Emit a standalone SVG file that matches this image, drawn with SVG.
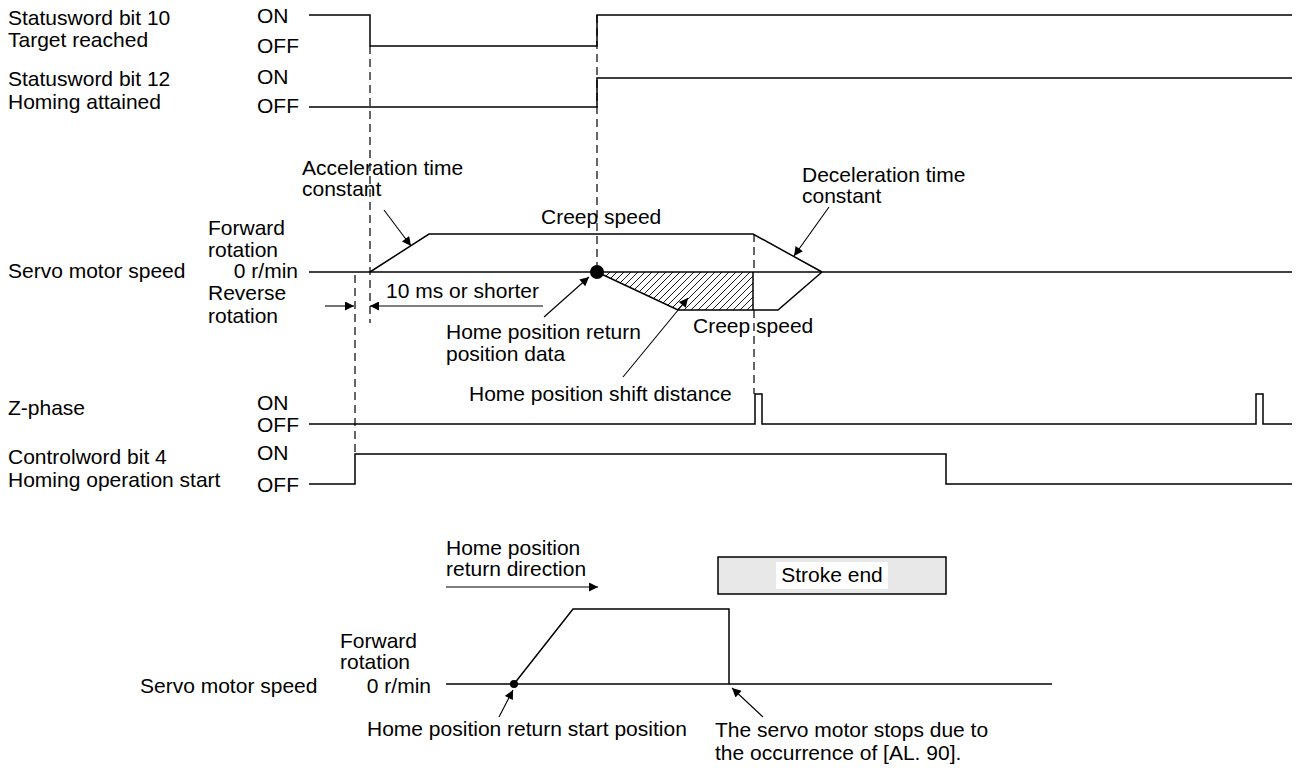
<svg xmlns="http://www.w3.org/2000/svg" width="1298" height="768" viewBox="0 0 1298 768">
<style>
text{font-family:"Liberation Sans",Arial,sans-serif;font-size:21px;fill:#000}
.sig{fill:none;stroke:#000;stroke-width:1.5}
.dash{fill:none;stroke:#000;stroke-width:1.2;stroke-dasharray:8 5}
.ld{fill:none;stroke:#000;stroke-width:1.1}
.end{text-anchor:end}
</style>
<defs>
<marker id="ah" viewBox="0 0 10 10" refX="10" refY="5" markerWidth="12" markerHeight="9" markerUnits="userSpaceOnUse" orient="auto"><path d="M0,0 L10,5 L0,10 z" fill="#000"/></marker>
<pattern id="hatch" patternUnits="userSpaceOnUse" width="7" height="7"><path d="M-1,1 L1,-1 M0,7 L7,0 M6,8 L8,6" stroke="#000" stroke-width="0.9"/></pattern>
</defs>
<rect width="1298" height="768" fill="#fff"/>

<g id="sw10">
<text x="8" y="25">Statusword bit 10</text>
<text x="8" y="47">Target reached</text>
<text x="257" y="23">ON</text>
<text x="257" y="53">OFF</text>
<path class="sig" d="M309,15 H370 V46 H597 V15 H1292"/>
</g>
<g id="sw12">
<text x="8" y="86">Statusword bit 12</text>
<text x="8" y="109">Homing attained</text>
<text x="257" y="84">ON</text>
<text x="257" y="113">OFF</text>
<path class="sig" d="M309,107 H597 V78 H1292"/>
</g>

<g id="speed">
<text x="208" y="235">Forward</text>
<text x="208" y="257">rotation</text>
<text x="8" y="278">Servo motor speed</text>
<text class="end" x="298" y="278">0 r/min</text>
<text x="208" y="300">Reverse</text>
<text x="208" y="323">rotation</text>
<path class="sig" d="M309,272 H1292"/>
<polygon points="597,272 753,272 753,310 678,310" fill="url(#hatch)" stroke="none"/>
<path class="sig" d="M370,272 L429,234 H753 L822,272"/>
<path class="sig" d="M597,272 L678,310 H778 L822,272"/>
<path class="sig" d="M753,272 V310"/>
<circle cx="597" cy="272" r="7" fill="#000"/>
<text x="302" y="175">Acceleration time</text>
<text x="302" y="196">constant</text>
<text x="541" y="224">Creep speed</text>
<text x="802" y="182">Deceleration time</text>
<text x="802" y="203">constant</text>
<text x="386" y="298">10 ms or shorter</text>
<text x="446" y="339">Home position return</text>
<text x="446" y="361">position data</text>
<text x="693" y="333">Creep speed</text>
<text x="469" y="401">Home position shift distance</text>
</g>

<g id="zphase">
<text x="8" y="415">Z-phase</text>
<text x="257" y="410">ON</text>
<text x="257" y="432">OFF</text>
<path class="sig" d="M309,424 H755 V394 H762 V424 H1256 V394 H1263 V424 H1292"/>
</g>

<g id="ctrl4">
<text x="8" y="464">Controlword bit 4</text>
<text x="8" y="487">Homing operation start</text>
<text x="257" y="460">ON</text>
<text x="257" y="492">OFF</text>
<path class="sig" d="M309,484 H355 V454 H946 V484 H1292"/>
</g>

<g id="bottom">
<text x="446" y="555">Home position</text>
<text x="446" y="576">return direction</text>
<rect x="718" y="557" width="228" height="37" fill="#e8e8e8" stroke="#000" stroke-width="1.5"/>
<rect x="776" y="562" width="112" height="27" fill="#fff"/>
<text x="832" y="582" text-anchor="middle">Stroke end</text>
<text x="340" y="648">Forward</text>
<text x="340" y="669">rotation</text>
<text x="140" y="693">Servo motor speed</text>
<text class="end" x="431" y="693">0 r/min</text>
<path class="sig" d="M446,684 H1052"/>
<path class="sig" d="M514,684 L573,609 H729 V684"/>
<circle cx="514" cy="684" r="4" fill="#000"/>
<text x="367" y="736">Home position return start position</text>
<text x="715" y="737">The servo motor stops due to</text>
<text x="715" y="760">the occurrence of [AL. 90].</text>
</g>

<g id="connectors">
<path class="dash" d="M370,46 V323"/>
<path class="dash" d="M355,275 V454"/>
<path class="dash" d="M597,15 V265"/>
<path class="dash" d="M754,234 V272 M754,310 V394"/>
<path class="ld" d="M384,210 L411,246" marker-end="url(#ah)"/>
<path class="ld" d="M829,207 L794,256" marker-end="url(#ah)"/>
<path class="ld" d="M325,306 H354" marker-end="url(#ah)"/>
<path class="ld" d="M543,306 H370" marker-end="url(#ah)"/>
<path class="ld" d="M544,317 L589,277" marker-end="url(#ah)"/>
<path class="ld" d="M623,377 L688,298" marker-end="url(#ah)"/>
<path class="ld" d="M446,587 H598" marker-end="url(#ah)"/>
<path class="ld" d="M499,717 L513,690" marker-end="url(#ah)"/>
<path class="ld" d="M763,717 L732,688" marker-end="url(#ah)"/>
</g>
</svg>
